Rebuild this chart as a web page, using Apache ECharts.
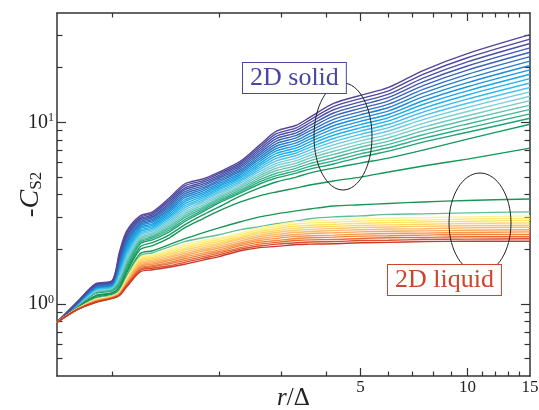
<!DOCTYPE html>
<html>
<head>
<meta charset="utf-8">
<script src="https://cdn.jsdelivr.net/npm/echarts@6.0.0/dist/echarts.min.js"></script>
<style>
  html, body { margin: 0; padding: 0; background: #fff; }
  #chart { width: 539px; height: 410px; }
</style>
</head>
<body>
<div id="chart"></div>
<script>
// r/Delta positions shared by every curve
const rValues = [0.7, 0.8, 0.9, 1.0, 1.05, 1.1, 1.2, 1.3, 1.45, 1.6, 1.8, 2.0, 2.3, 2.6, 2.9, 3.3, 3.6, 4.2, 5, 6, 7.5, 10, 15];

// 2D solid curves, top (purple) to bottom (teal)
const s0  = [0.79, 1.03, 1.29, 1.34, 1.94, 2.52, 3.05, 3.21, 3.83, 4.57, 4.87, 5.32, 6.11, 7.48, 8.93, 9.63, 10.65, 12.71, 14.07, 15.56, 19.28, 23.9, 30.39];
const s1  = [0.79, 1.03, 1.28, 1.33, 1.89, 2.46, 2.99, 3.15, 3.74, 4.46, 4.76, 5.21, 5.98, 7.29, 8.65, 9.32, 10.29, 12.20, 13.50, 14.91, 18.38, 22.68, 28.74];
const s2  = [0.79, 1.02, 1.27, 1.32, 1.85, 2.40, 2.94, 3.09, 3.66, 4.34, 4.66, 5.10, 5.86, 7.10, 8.38, 9.03, 9.94, 11.72, 12.96, 14.29, 17.52, 21.52, 27.18];
const s3  = [0.79, 1.02, 1.27, 1.31, 1.81, 2.35, 2.89, 3.03, 3.58, 4.24, 4.56, 5.00, 5.73, 6.92, 8.13, 8.75, 9.60, 11.25, 12.43, 13.70, 16.70, 20.42, 25.70];
const s4  = [0.79, 1.02, 1.26, 1.31, 1.77, 2.29, 2.83, 2.98, 3.50, 4.13, 4.46, 4.90, 5.61, 6.74, 7.88, 8.47, 9.27, 10.81, 11.93, 13.13, 15.92, 19.37, 24.31];
const s5  = [0.79, 1.01, 1.25, 1.30, 1.74, 2.23, 2.78, 2.92, 3.42, 4.03, 4.36, 4.80, 5.49, 6.57, 7.63, 8.21, 8.96, 10.38, 11.45, 12.58, 15.17, 18.38, 22.99];
const s6  = [0.79, 1.01, 1.24, 1.29, 1.70, 2.18, 2.73, 2.87, 3.34, 3.93, 4.27, 4.70, 5.38, 6.40, 7.40, 7.95, 8.65, 9.97, 10.99, 12.06, 14.46, 17.44, 21.74];
const s7  = [0.79, 1.01, 1.23, 1.28, 1.66, 2.13, 2.68, 2.82, 3.27, 3.83, 4.17, 4.60, 5.26, 6.24, 7.17, 7.70, 8.36, 9.57, 10.54, 11.55, 13.79, 16.55, 20.56];
const s8  = [0.79, 1.00, 1.23, 1.27, 1.63, 2.07, 2.63, 2.76, 3.20, 3.73, 4.08, 4.51, 5.15, 6.08, 6.95, 7.46, 8.08, 9.19, 10.12, 11.07, 13.14, 15.70, 19.44];
const s9  = [0.79, 1.00, 1.22, 1.26, 1.59, 2.02, 2.58, 2.71, 3.12, 3.64, 3.99, 4.42, 5.04, 5.92, 6.74, 7.22, 7.80, 8.83, 9.71, 10.61, 12.53, 14.90, 18.39];
const s10 = [0.79, 1.00, 1.21, 1.26, 1.56, 1.97, 2.53, 2.66, 3.05, 3.55, 3.91, 4.33, 4.94, 5.77, 6.53, 6.99, 7.54, 8.48, 9.32, 10.17, 11.94, 14.14, 17.39];
const s11 = [0.79, 0.99, 1.20, 1.25, 1.52, 1.93, 2.49, 2.61, 2.99, 3.46, 3.82, 4.24, 4.83, 5.62, 6.33, 6.77, 7.28, 8.14, 8.94, 9.75, 11.38, 13.41, 16.45];
const s12 = [0.79, 0.99, 1.20, 1.24, 1.49, 1.88, 2.44, 2.57, 2.92, 3.38, 3.74, 4.15, 4.73, 5.48, 6.13, 6.56, 7.03, 7.82, 8.58, 9.34, 10.85, 12.73, 15.55];
const s13 = [0.79, 0.99, 1.19, 1.23, 1.46, 1.83, 2.40, 2.52, 2.85, 3.29, 3.66, 4.07, 4.63, 5.34, 5.94, 6.35, 6.79, 7.51, 8.23, 8.95, 10.35, 12.08, 14.71];
const s14 = [0.79, 0.99, 1.18, 1.22, 1.43, 1.79, 2.35, 2.47, 2.79, 3.21, 3.58, 3.98, 4.53, 5.20, 5.76, 6.15, 6.56, 7.21, 7.90, 8.58, 9.86, 11.46, 13.91];
const s15 = [0.79, 0.98, 1.17, 1.22, 1.40, 1.75, 2.31, 2.43, 2.73, 3.13, 3.50, 3.90, 4.44, 5.07, 5.58, 5.96, 6.34, 6.92, 7.58, 8.22, 9.40, 10.87, 13.15];
const s16 = [0.79, 0.98, 1.16, 1.21, 1.37, 1.70, 2.27, 2.38, 2.67, 3.05, 3.42, 3.82, 4.35, 4.94, 5.41, 5.77, 6.13, 6.65, 7.28, 7.88, 8.96, 10.32, 12.44];
const s17 = [0.79, 0.98, 1.16, 1.20, 1.34, 1.66, 2.22, 2.34, 2.61, 2.98, 3.35, 3.75, 4.25, 4.81, 5.24, 5.59, 5.92, 6.38, 6.98, 7.55, 8.54, 9.79, 11.77];
const s18 = [0.79, 0.97, 1.15, 1.19, 1.31, 1.62, 2.18, 2.30, 2.55, 2.90, 3.28, 3.67, 4.16, 4.69, 5.08, 5.42, 5.72, 6.13, 6.70, 7.24, 8.15, 9.29, 11.13];
const s19 = [0.79, 0.97, 1.14, 1.18, 1.28, 1.58, 2.14, 2.25, 2.49, 2.83, 3.21, 3.60, 4.08, 4.57, 4.93, 5.25, 5.52, 5.89, 6.43, 6.93, 7.77, 8.81, 10.52];

// transition curves (green) between the two bands
const g0 = [0.79, 0.96, 1.11, 1.15, 1.24, 1.52, 2.06, 2.17, 2.40, 2.72, 3.09, 3.42, 3.93, 4.35, 4.69, 4.99, 5.25, 5.59, 5.96, 6.35, 7.02, 8.07, 9.75];
const g1 = [0.79, 0.95, 1.10, 1.14, 1.23, 1.49, 1.99, 2.09, 2.31, 2.62, 2.94, 3.25, 3.64, 3.93, 4.13, 4.35, 4.51, 4.75, 4.99, 5.32, 5.74, 6.27, 7.20];
const g2 = [0.79, 0.95, 1.08, 1.13, 1.20, 1.43, 1.89, 1.96, 2.12, 2.28, 2.46, 2.62, 2.83, 3.01, 3.13, 3.25, 3.33, 3.46, 3.51, 3.57, 3.64, 3.71, 3.78];
const g3 = [0.79, 0.94, 1.07, 1.11, 1.18, 1.41, 1.84, 1.91, 2.06, 2.20, 2.31, 2.40, 2.56, 2.66, 2.76, 2.86, 2.94, 3.01, 3.05, 3.11, 3.13, 3.17, 3.21];

// 2D liquid curves, top (yellow) to bottom (red)
const l0  = [0.79, 0.94, 1.06, 1.10, 1.17, 1.38, 1.80, 1.86, 1.99, 2.12, 2.23, 2.31, 2.46, 2.62, 2.72, 2.83, 2.86, 2.90, 2.94, 2.96, 2.98, 3.01, 3.05];
const l1  = [0.79, 0.94, 1.05, 1.09, 1.16, 1.36, 1.77, 1.83, 1.95, 2.07, 2.18, 2.26, 2.41, 2.56, 2.66, 2.75, 2.79, 2.82, 2.86, 2.88, 2.89, 2.93, 2.96];
const l2  = [0.79, 0.94, 1.05, 1.09, 1.16, 1.35, 1.74, 1.80, 1.91, 2.02, 2.13, 2.21, 2.36, 2.50, 2.59, 2.68, 2.71, 2.74, 2.78, 2.80, 2.82, 2.85, 2.88];
const l3  = [0.79, 0.94, 1.05, 1.09, 1.15, 1.34, 1.71, 1.77, 1.87, 1.98, 2.08, 2.16, 2.31, 2.45, 2.53, 2.61, 2.64, 2.67, 2.70, 2.72, 2.74, 2.77, 2.79];
const l4  = [0.79, 0.94, 1.04, 1.09, 1.15, 1.33, 1.68, 1.74, 1.83, 1.93, 2.03, 2.12, 2.27, 2.39, 2.47, 2.54, 2.57, 2.60, 2.63, 2.65, 2.67, 2.69, 2.71];
const l5  = [0.79, 0.94, 1.04, 1.08, 1.14, 1.31, 1.66, 1.71, 1.80, 1.89, 1.99, 2.07, 2.22, 2.34, 2.41, 2.48, 2.50, 2.53, 2.56, 2.58, 2.59, 2.62, 2.64];
const l6  = [0.79, 0.93, 1.04, 1.08, 1.14, 1.30, 1.63, 1.68, 1.76, 1.85, 1.95, 2.03, 2.17, 2.28, 2.35, 2.41, 2.44, 2.46, 2.49, 2.51, 2.52, 2.54, 2.56];
const l7  = [0.79, 0.93, 1.03, 1.08, 1.13, 1.29, 1.60, 1.65, 1.73, 1.81, 1.90, 1.98, 2.13, 2.23, 2.29, 2.35, 2.37, 2.39, 2.42, 2.44, 2.45, 2.47, 2.49];
const l8  = [0.79, 0.93, 1.03, 1.08, 1.13, 1.28, 1.58, 1.62, 1.69, 1.77, 1.86, 1.94, 2.09, 2.18, 2.23, 2.29, 2.31, 2.33, 2.36, 2.37, 2.39, 2.41, 2.41];
const l9  = [0.79, 0.93, 1.02, 1.07, 1.12, 1.27, 1.55, 1.60, 1.66, 1.73, 1.82, 1.90, 2.04, 2.13, 2.18, 2.23, 2.25, 2.26, 2.29, 2.31, 2.32, 2.34, 2.34];
const l10 = [0.79, 0.93, 1.02, 1.07, 1.12, 1.26, 1.53, 1.57, 1.62, 1.69, 1.78, 1.86, 2.00, 2.08, 2.13, 2.17, 2.19, 2.20, 2.23, 2.24, 2.26, 2.27, 2.28];
const l11 = [0.79, 0.93, 1.02, 1.07, 1.11, 1.24, 1.50, 1.54, 1.59, 1.65, 1.74, 1.82, 1.96, 2.04, 2.07, 2.12, 2.13, 2.14, 2.17, 2.18, 2.20, 2.21, 2.21];

const solidRuns = [s0, s1, s2, s3, s4, s5, s6, s7, s8, s9, s10, s11, s12, s13, s14, s15, s16, s17, s18, s19];
const greenRuns = [g0, g1, g2, g3];
const liquidRuns = [l0, l1, l2, l3, l4, l5, l6, l7, l8, l9, l10, l11];

// ticks
const xMajorTicks = [5, 10];
const xMinorTicks = [1, 2, 3, 4, 6, 7, 8, 9, 11, 12, 13, 14];
const xTickLabels = [5, 10, 15];
const yMajorTicks = [1, 10];
const yMinorTicks = [0.5, 0.6, 0.7, 0.8, 0.9, 2, 3, 4, 5, 6, 7, 8, 9, 20, 30];
const yTickLabels = [1, 10];

const solidColors = ['#54469a', '#51499f', '#4b52a6', '#4459ad', '#3c64b6', '#3370bf', '#2a7dc8', '#228bd2', '#1b99dc', '#17a7e4',
  '#1fb1e9', '#35baeb', '#50c3ea', '#69cbe3', '#7dd0d6', '#73cbc0', '#5cc2ab', '#45b797', '#30ad85', '#1ea374'];
const greenColors = ['#16995f', '#179556', '#1a9654', '#5fbf95'];
const liquidColors = ['#fff39a', '#ffec78', '#fee35f', '#fdd65e', '#fdc671', '#fcb769', '#fba75a', '#f8964a', '#f3823c', '#ea6a33', '#d9502e', '#c93a28'];

const FONT = '"Liberation Serif", "DejaVu Serif", serif';
const INK = '#333';

function curve(values, color) {
  return {
    type: 'line',
    xAxisIndex: 0,
    yAxisIndex: 0,
    data: rValues.map((r, i) => [r, values[i]]),
    showSymbol: false,
    symbol: 'none',
    smooth: 0.3,
    silent: true,
    lineStyle: { color: color, width: 1.4 },
    itemStyle: { color: color }
  };
}

function axisDef(dim, position, ticks, len, mainLine) {
  return {
    type: 'log',
    logBase: 10,
    min: dim === 'x' ? 0.7 : 0.4,
    max: dim === 'x' ? 15 : 40,
    position: position,
    axisLine: { show: mainLine, onZero: false, lineStyle: { color: INK, width: 1.5 } },
    axisTick: { show: true, inside: true, length: len, customValues: ticks, lineStyle: { color: INK, width: 1.2 } },
    axisLabel: { show: false },
    splitLine: { show: false },
    minorTick: { show: false },
    minorSplitLine: { show: false }
  };
}

const xMain = axisDef('x', 'bottom', xMajorTicks, 8, true);
xMain.axisLabel = {
  show: true, customValues: xTickLabels, margin: 3, showMinLabel: true, showMaxLabel: true,
  fontFamily: FONT, fontSize: 17, color: '#222'
};
xMain.name = '{i|r}{n|/Δ}';
xMain.nameLocation = 'middle';
xMain.nameGap = 10;
xMain.nameMoveOverlap = false;
xMain.nameTextStyle = {
  color: '#222',
  rich: {
    i: { fontFamily: FONT, fontSize: 25, fontStyle: 'italic', color: '#222' },
    n: { fontFamily: FONT, fontSize: 25, color: '#222' }
  }
};

const yMain = axisDef('y', 'left', yMajorTicks, 9, true);
yMain.axisLabel = {
  show: true, customValues: yTickLabels, margin: 3, color: '#222',
  formatter: v => '{b|10}{s|' + (v === 1 ? '0' : '1') + '}',
  rich: {
    b: { fontFamily: FONT, fontSize: 20, color: '#222' },
    s: { fontFamily: FONT, fontSize: 12, color: '#222', verticalAlign: 'top' }
  }
};
yMain.name = '{n|-}{i|C}{sub|S2}';
yMain.nameLocation = 'middle';
yMain.nameGap = 12;
yMain.nameMoveOverlap = false;
yMain.nameTextStyle = {
  color: '#222',
  rich: {
    n: { fontFamily: FONT, fontSize: 26, color: '#222' },
    i: { fontFamily: FONT, fontSize: 28, fontStyle: 'italic', color: '#222' },
    sub: { fontFamily: FONT, fontSize: 17, color: '#222', verticalAlign: 'bottom' }
  }
};

const series = [];
solidRuns.slice().reverse().forEach((run, k) => series.push(curve(run, solidColors[solidRuns.length - 1 - k])));
greenRuns.forEach((run, k) => series.push(curve(run, greenColors[k])));
liquidRuns.forEach((run, k) => series.push(curve(run, liquidColors[k])));

const chart = echarts.init(document.getElementById('chart'));
chart.setOption({
  animation: false,
  backgroundColor: '#fff',
  grid: { left: 57, top: 13, width: 473, height: 363, containLabel: false, outerBoundsMode: 'none' },
  xAxis: [
    xMain,
    axisDef('x', 'bottom', xMinorTicks, 4.5, false),
    axisDef('x', 'top', xMajorTicks, 8, true),
    axisDef('x', 'top', xMinorTicks, 4.5, false)
  ],
  yAxis: [
    yMain,
    axisDef('y', 'left', yMinorTicks, 5.5, false),
    axisDef('y', 'right', yMajorTicks, 9, true),
    axisDef('y', 'right', yMinorTicks, 5.5, false)
  ],
  series: series,
  graphic: [
    { type: 'ellipse', z: 100, shape: { cx: 343, cy: 136.5, rx: 29, ry: 53.5 }, style: { fill: 'none', stroke: '#222', lineWidth: 1 } },
    { type: 'ellipse', z: 100, shape: { cx: 480, cy: 223, rx: 31, ry: 50 }, style: { fill: 'none', stroke: '#222', lineWidth: 1 } },
    {
      type: 'text', z: 101, x: 243, y: 63,
      style: {
        text: '2D solid', fontFamily: FONT, fontSize: 26, fill: '#4a47a3',
        backgroundColor: '#fff', borderColor: '#4a47a3', borderWidth: 1,
        padding: [1, 7, 1, 7], lineHeight: 28
      }
    },
    {
      type: 'text', z: 101, x: 388, y: 265,
      style: {
        text: '2D liquid', fontFamily: FONT, fontSize: 26, fill: '#d0432c',
        backgroundColor: '#fff', borderColor: '#d0432c', borderWidth: 1,
        padding: [1, 7, 1, 7], lineHeight: 28
      }
    }
  ]
});
</script>
</body>
</html>
